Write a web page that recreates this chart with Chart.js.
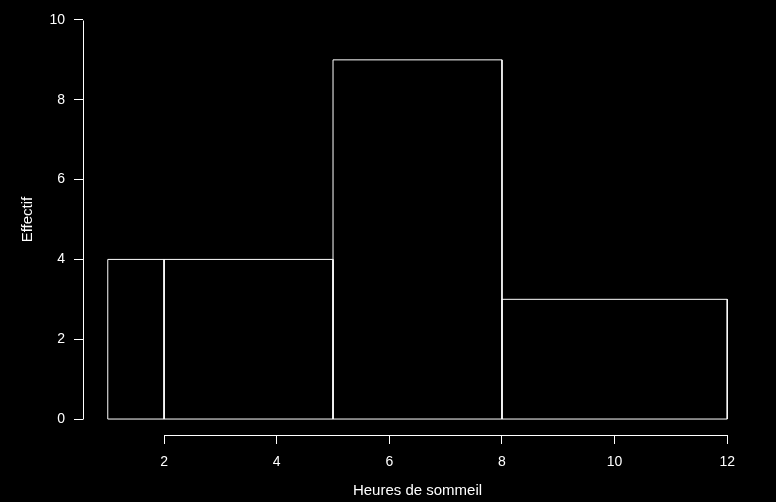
<!DOCTYPE html>
<html>
<head>
<meta charset="utf-8">
<script src="https://cdn.jsdelivr.net/npm/chart.js@4"></script>
<style>
html,body{margin:0;padding:0;background:#000;}
canvas{display:block;}
</style>
</head>
<body>
<canvas id="c" width="776" height="502"></canvas>
<script>
// Histogram data
const breaks = [1, 2, 5, 8, 12];
const counts = [4, 4, 9, 3];
const xTicks = [2, 4, 6, 8, 10, 12];
const yTicks = [0, 2, 4, 6, 8, 10];
const xTitle = 'Heures de sommeil';
const yTitle = 'Effectif';

const FONT = {family: '"Liberation Sans", Arial, Helvetica, sans-serif', size: 14};
const TFONT = {family: '"Liberation Sans", Arial, Helvetica, sans-serif', size: 15};

const datasets = counts.map((h, i) => ({
  data: [
    {x: breaks[i], y: 0},
    {x: breaks[i], y: h},
    {x: breaks[i + 1], y: h},
    {x: breaks[i + 1], y: 0},
    {x: breaks[i], y: 0}
  ],
  showLine: true,
  borderColor: '#ffffff',
  borderWidth: 1,
  pointRadius: 0,
  fill: false,
  tension: 0
}));

const bgPlugin = {
  id: 'bg',
  beforeDraw(chart) {
    const ctx = chart.ctx;
    ctx.save();
    ctx.fillStyle = '#000';
    ctx.fillRect(0, 0, chart.width, chart.height);
    ctx.restore();
  }
};

const axisPlugin = {
  id: 'axisLines',
  afterDraw(chart) {
    const ctx = chart.ctx;
    const xs = chart.scales.x, ys = chart.scales.y;
    const area = chart.chartArea;
    ctx.save();
    ctx.strokeStyle = '#fff';
    ctx.lineWidth = 1;
    ctx.beginPath();
    const yb = Math.round(area.bottom) + 0.5;
    ctx.moveTo(Math.round(xs.getPixelForValue(xTicks[0])) + 0.5, yb);
    ctx.lineTo(Math.round(xs.getPixelForValue(xTicks[xTicks.length - 1])) + 0.5, yb);
    const xl = Math.round(area.left) + 0.5;
    ctx.moveTo(xl, Math.round(ys.getPixelForValue(yTicks[0])) + 0.5);
    ctx.lineTo(xl, Math.round(ys.getPixelForValue(yTicks[yTicks.length - 1])) + 0.5);
    ctx.stroke();
    ctx.restore();
  }
};

new Chart(document.getElementById('c'), {
  type: 'scatter',
  data: {datasets},
  plugins: [bgPlugin, axisPlugin],
  options: {
    responsive: false,
    animation: false,
    devicePixelRatio: 1,
    layout: {padding: {top: 4, right: 24, left: 0, bottom: 0}},
    plugins: {legend: {display: false}, tooltip: {enabled: false}},
    scales: {
      x: {
        type: 'linear',
        min: 0.56, max: 12.44,
        afterBuildTicks(s) { s.ticks = xTicks.map(v => ({value: v})); },
        afterFit(s) { s.height = 67; s.paddingLeft = 0; s.paddingRight = 0; },
        grid: {display: true, drawOnChartArea: false, drawTicks: true, tickLength: 9, color: '#fff', lineWidth: 1},
        border: {display: false},
        ticks: {color: '#fff', font: FONT, padding: 10, maxRotation: 0, autoSkip: false},
        title: {display: true, text: xTitle, color: '#fff', font: TFONT, padding: {top: 0, bottom: 2}}
      },
      y: {
        type: 'linear',
        min: -0.4, max: 10.4,
        afterBuildTicks(s) { s.ticks = yTicks.map(v => ({value: v})); },
        afterFit(s) { s.width = 83; s.paddingTop = 0; s.paddingBottom = 0; },
        grid: {display: true, drawOnChartArea: false, drawTicks: true, tickLength: 9, color: '#fff', lineWidth: 1},
        border: {display: false},
        ticks: {color: '#fff', font: FONT, padding: 9, autoSkip: false},
        title: {display: true, text: yTitle, color: '#fff', font: TFONT, padding: {top: 19, bottom: 0}}
      }
    }
  }
});
</script>
</body>
</html>
